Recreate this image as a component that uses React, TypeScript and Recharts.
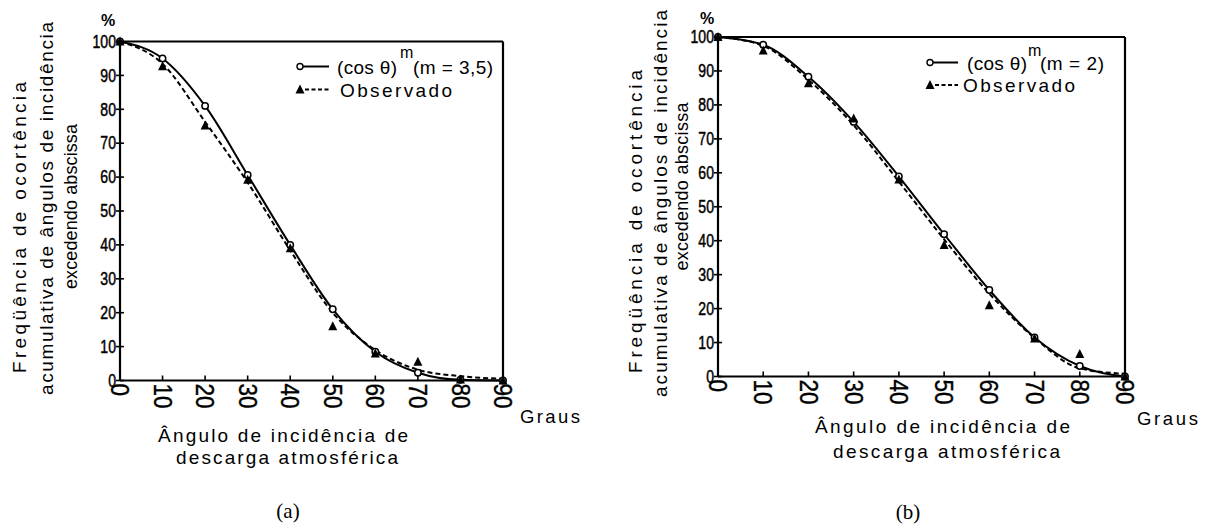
import React from 'react';
import { LineChart, Line, XAxis, YAxis, ReferenceLine } from 'recharts';

const angles = [0, 10, 20, 30, 40, 50, 60, 70, 80, 90];
const xTicks = [0, 10, 20, 30, 40, 50, 60, 70, 80, 90];
const yTicks = [0, 10, 20, 30, 40, 50, 60, 70, 80, 90, 100];

// Panel (a): (cos θ)^m, m = 3,5
const fitA = [100, 95, 81, 60.6, 40, 21, 8.5, 2.3, 0.2, 0];
const trendA = [100, 93.4, 76.3, 58.4, 38.4, 20, 9, 3.2, 1.3, 0.5];
const obsA = [100, 92.7, 75.2, 59.2, 39, 16, 8, 5.5, 0.3, 0];

// Panel (b): (cos θ)^m, m = 2
const fitB = [100, 97.7, 88.3, 75, 58.9, 41.9, 25.5, 11.5, 3.1, 0];
const trendB = [100, 97.4, 87.4, 74, 57.4, 40.4, 24.4, 11.4, 2.4, 0.8];
const obsB = [100, 96, 86.4, 76, 58, 38.7, 21, 11.2, 6.6, 0];

const SANS = '"Liberation Sans", Arial, Helvetica, sans-serif';
const SERIF = '"Liberation Serif", "Times New Roman", serif';

const build = (fit: number[], trend: number[], obs: number[]) =>
  angles.map((a, i) => ({ angle: a, fit: fit[i], trend: trend[i], obs: obs[i] }));

const dataA = build(fitA, trendA, obsA);
const dataB = build(fitB, trendB, obsB);

const YTick = (props: any) => {
  const { x, y, payload } = props;
  return (
    <g>
      <line x1={x - 4} x2={x + 4} y1={y} y2={y} stroke="#000" strokeWidth={1.6} />
      <text
        transform={`translate(${x - 4},${y}) scale(0.74,1)`}
        textAnchor="end"
        dominantBaseline="central"
        fontSize={19}
        fontFamily={SANS}
        fill="#000"
        stroke="#000"
        strokeWidth={0.5}
      >
        {payload.value}
      </text>
    </g>
  );
};

const XTick = (props: any) => {
  const { x, y, payload } = props;
  return (
    <g>
      <line x1={x} x2={x} y1={y} y2={y - 5} stroke="#000" strokeWidth={1.6} />
      <text
        transform={`translate(${x},${y + 3}) rotate(90) scale(0.9,1)`}
        textAnchor="start"
        dominantBaseline="central"
        fontSize={25}
        fontFamily={SANS}
        fill="#000"
        stroke="#000"
        strokeWidth={0.4}
      >
        {payload.value}
      </text>
    </g>
  );
};

const OpenCircle = (props: any) => {
  const { cx, cy, index } = props;
  if (cx == null || cy == null) return <g key={`c${index}`} />;
  return <circle key={`c${index}`} cx={cx} cy={cy} r={3.2} fill="#fff" stroke="#000" strokeWidth={1.5} />;
};

const Triangle = (props: any) => {
  const { cx, cy, index } = props;
  if (cx == null || cy == null) return <g key={`t${index}`} />;
  return (
    <polygon
      key={`t${index}`}
      points={`${cx},${cy - 5} ${cx - 4.5},${cy + 4} ${cx + 4.5},${cy + 4}`}
      fill="#000"
    />
  );
};

type PanelProps = {
  data: any[];
  left: number;
  width: number;
  margin: { top: number; right: number; bottom: number; left: number };
};

const Panel = ({ data, left, width, margin }: PanelProps) => (
  <div style={{ position: 'absolute', left, top: 0 }}>
    <LineChart width={width} height={527} data={data} margin={margin}>
      <XAxis
        dataKey="angle"
        type="number"
        domain={[0, 90]}
        ticks={xTicks}
        interval={0}
        height={40}
        tickSize={0}
        tickMargin={0}
        tickLine={false}
        axisLine={{ stroke: '#000', strokeWidth: 2.2 }}
        tick={<XTick />}
      />
      <YAxis
        type="number"
        domain={[0, 100]}
        ticks={yTicks}
        interval={0}
        width={40}
        tickSize={0}
        tickMargin={0}
        tickLine={false}
        axisLine={{ stroke: '#000', strokeWidth: 2.2 }}
        tick={<YTick />}
      />
      <ReferenceLine y={100} stroke="#000" strokeWidth={1.8} />
      <ReferenceLine x={90} stroke="#000" strokeWidth={2.2} />
      <Line
        dataKey="trend"
        type="monotone"
        stroke="#000"
        strokeWidth={2}
        strokeDasharray="5 3"
        dot={false}
        activeDot={false}
        isAnimationActive={false}
      />
      <Line
        dataKey="fit"
        type="monotone"
        stroke="#000"
        strokeWidth={2}
        dot={<OpenCircle />}
        activeDot={false}
        isAnimationActive={false}
      />
      <Line
        dataKey="obs"
        type="monotone"
        stroke="none"
        dot={<Triangle />}
        activeDot={false}
        isAnimationActive={false}
      />
    </LineChart>
  </div>
);

const T = (p: any) => {
  const { x, y, len, rot, size = 19, anchor = 'middle', family = SANS, weight, children } = p;
  return (
    <text
      x={0}
      y={0}
      transform={`translate(${x},${y})${rot ? ` rotate(${rot})` : ''}`}
      textAnchor={anchor}
      dominantBaseline="central"
      fontSize={size}
      fontFamily={family}
      fontWeight={weight}
      fill="#000"
      {...(len ? { textLength: len, lengthAdjust: 'spacing' } : {})}
    >
      {children}
    </text>
  );
};

const Overlay = () => (
  <svg width={1211} height={527} style={{ position: 'absolute', left: 0, top: 0, pointerEvents: 'none' }}>
    {/* Panel (a) texts */}
    <T x={19} y={227.5} len={291} rot={-90}>Freqüência de ocortência</T>
    <T x={46} y={208.5} len={373} rot={-90}>acumulativa de ângulos de incidência</T>
    <T x={71} y={206.5} len={165} size={18} rot={-90}>excedendo abscissa</T>
    <T x={108} y={20} size={16} weight="bold">%</T>
    <T x={283} y={435} len={250}>Ângulo de incidência de</T>
    <T x={287} y={457} len={222}>descarga atmosférica</T>
    <T x={520} y={416} len={60} anchor="start" size={18.5}>Graus</T>
    <T x={288} y={511} size={21} family={SERIF}>(a)</T>
    {/* Legend (a) */}
    <line x1={303} x2={329} y1={66.5} y2={66.5} stroke="#000" strokeWidth={2} />
    <circle cx={300} cy={66.5} r={3} fill="#fff" stroke="#000" strokeWidth={1.4} />
    <line x1={305} x2={330} y1={89.5} y2={89.5} stroke="#000" strokeWidth={2} strokeDasharray="4 2.5" />
    <polygon points="300,84.5 295.5,93.5 304.5,93.5" fill="#000" />
    <T x={337} y={67} len={60} anchor="start">(cos θ)</T>
    <T x={400} y={52} len={12} anchor="start" size={16}>m</T>
    <T x={413} y={67} len={80} anchor="start">(m = 3,5)</T>
    <T x={340} y={90} len={112} anchor="start">Observado</T>

    {/* Panel (b) texts */}
    <T x={635.5} y={221.5} len={303} rot={-90}>Freqüência de ocortência</T>
    <T x={660.5} y={203.5} len={387} rot={-90}>acumulativa de ângulos de incidência</T>
    <T x={682} y={186.5} len={168} size={18} rot={-90}>excedendo abscissa</T>
    <T x={707} y={18} size={16} weight="bold">%</T>
    <T x={942.5} y={426.5} len={255}>Ângulo de incidência de</T>
    <T x={946.5} y={451} len={227}>descarga atmosférica</T>
    <T x={1137} y={418} len={61} anchor="start" size={18.5}>Graus</T>
    <T x={908} y={512} size={21} family={SERIF}>(b)</T>
    {/* Legend (b) */}
    <line x1={933} x2={958} y1={62.5} y2={62.5} stroke="#000" strokeWidth={2} />
    <circle cx={930} cy={62.5} r={3} fill="#fff" stroke="#000" strokeWidth={1.4} />
    <line x1={935} x2={958} y1={85} y2={85} stroke="#000" strokeWidth={2} strokeDasharray="4 2.5" />
    <polygon points="930,80 925.5,89 934.5,89" fill="#000" />
    <T x={967} y={63} len={60} anchor="start">(cos θ)</T>
    <T x={1028} y={50} len={12} anchor="start" size={16}>m</T>
    <T x={1040} y={63} len={64} anchor="start">(m = 2)</T>
    <T x={963} y={85} len={112} anchor="start">Observado</T>
  </svg>
);

export default function App() {
  return (
    <div style={{ position: 'absolute', left: 0, top: 0, width: 1211, height: 527, background: '#fff' }}>
      <Panel data={dataA} left={0} width={600} margin={{ top: 41.5, right: 97, bottom: 106.5, left: 80 }} />
      <Panel data={dataB} left={600} width={611} margin={{ top: 37, right: 86, bottom: 110.5, left: 78 }} />
      <Overlay />
    </div>
  );
}
